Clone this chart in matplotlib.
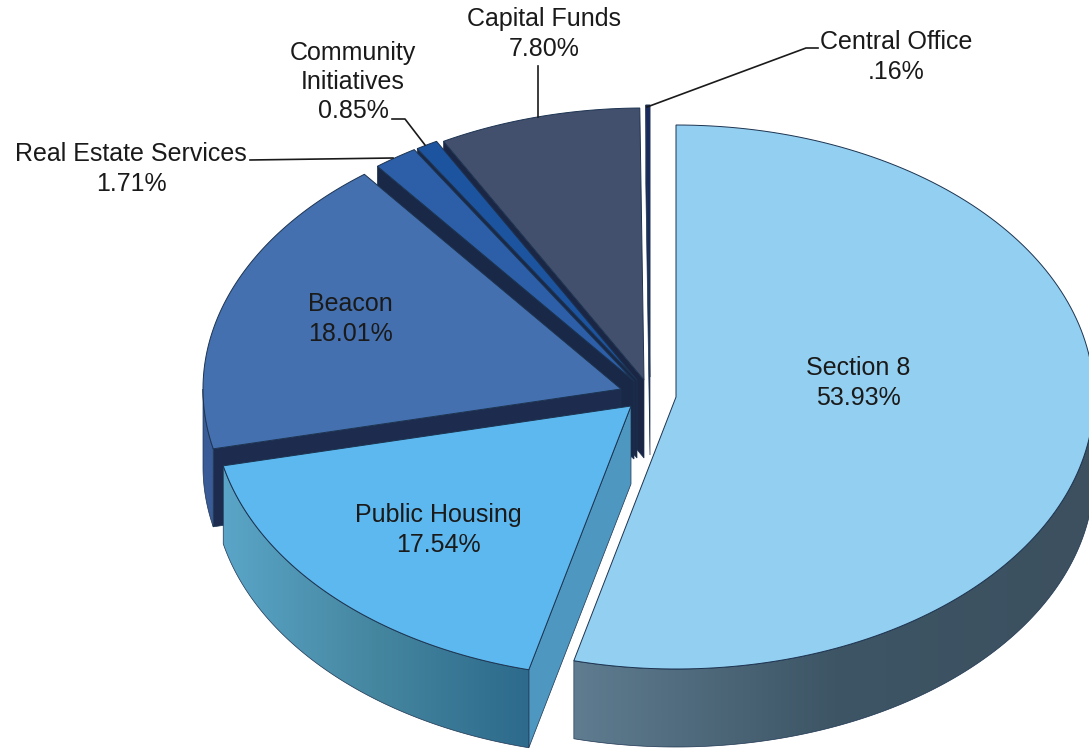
import numpy as np
import matplotlib
matplotlib.use("Agg")
import matplotlib.pyplot as plt
from matplotlib.colors import LinearSegmentedColormap
from matplotlib.patches import Polygon

# budget shares, clockwise from twelve o'clock
categories = ["Section 8", "Public Housing", "Beacon", "Real Estate Services",
              "Community Initiatives", "Capital Funds", "Central Office"]
shares = [53.93, 17.54, 18.01, 1.71, 0.85, 7.80, 0.16]
share_labels = ["Section 8\n53.93%", "Public Housing\n17.54%", "Beacon\n18.01%",
                "Real Estate Services\n1.71%", "Community\nInitiatives\n0.85%",
                "Capital Funds\n7.80%", "Central Office\n.16%"]

# layout of the tilted pie, in pixels
RX, RY, DEPTH = 418, 272, 78
apex = [(676, 397), (631, 406), (621, 389), (634, 381), (637, 380), (644, 380), (650, 377)]
label_pos = [(858, 383), (438, 530), (350, 319), (131, 169), (353, 82), (544, 34), (896, 57)]

top_colors = ["#93cff0", "#5cb8ee", "#4470b0", "#2c5fa8", "#1c54a0", "#42506e", "#1a2a60"]
rim_colors = [("#5f7c90", "#3d5565", "#3c505f"), ("#5aa5c8", "#45869f", "#2d6a8c"),
              ("#3a5c98", "#3a5c98", "#3a5c98"), ("#1d2c4e", "#1d2c4e", "#1d2c4e"),
              ("#1d2c4e", "#1d2c4e", "#1d2c4e"), ("#1d2c4e", "#1d2c4e", "#1d2c4e"),
              ("#1a2a60", "#1a2a60", "#1a2a60")]
face_colors = ["#3d5565", "#4d97c1", "#1d2c4e", "#1a2848", "#1a2848", "#1a2644", "#1a2a60"]
EDGE = "#1c3350"


def arc(cx, cy, a0, a1, n=160):
    t = np.radians(np.linspace(a0, a1, n))
    return np.column_stack([cx + RX * np.sin(t), cy - RY * np.cos(t)])


def gradient_fill(ax, pts, colors, zorder):
    # horizontal shading clipped to the wall outline
    cmap = LinearSegmentedColormap.from_list("wall", colors)
    x0, x1 = pts[:, 0].min(), pts[:, 0].max()
    y0, y1 = pts[:, 1].min(), pts[:, 1].max()
    im = ax.imshow(np.linspace(0, 1, 256).reshape(1, -1), cmap=cmap, aspect="auto",
                   extent=(x0, x1, y1, y0), zorder=zorder)
    outline = Polygon(pts, closed=True, fc="none", ec=EDGE, lw=0.5, zorder=zorder + 0.1)
    ax.add_patch(outline)
    im.set_clip_path(outline)


fig = plt.figure(figsize=(10.89, 7.5), dpi=100)
ax = fig.add_axes([0, 0, 1, 1])
ax.axis("off")

edges = np.concatenate([[0], np.cumsum(shares)]) / sum(shares) * 360

# back slices first so the front ones cover their walls
for i in reversed(range(len(shares))):
    cx, cy = apex[i]
    a0, a1 = edges[i], edges[i + 1]
    z = 10 * (len(shares) - i)
    outer = arc(cx, cy, a0, a1)

    # only the leading cut face looks toward the viewer on this side
    if a0 >= 180:
        end = outer[0]
        face = np.array([[cx, cy], end, end + [0, DEPTH], [cx, cy + DEPTH]])
        ax.add_patch(Polygon(face, closed=True, fc=face_colors[i], ec=EDGE, lw=0.5, zorder=z))

    # outer rim, front half of the ellipse only
    r0, r1 = max(a0, 90), min(a1, 270)
    if r0 < r1:
        rim = arc(cx, cy, r0, r1)
        wall = np.vstack([rim, (rim + [0, DEPTH])[::-1]])
        gradient_fill(ax, wall, rim_colors[i], z + 1)

    # top surface
    top = np.vstack([[cx, cy], outer])
    ax.add_patch(Polygon(top, closed=True, fc=top_colors[i], ec=EDGE, lw=0.7, zorder=z + 2))

# leader lines
leaders = [[(250, 160), (393, 158)],
           [(392, 119), (405, 119), (425, 145)],
           [(538, 66), (538, 117)],
           [(647, 107), (806, 48), (818, 48)]]
for line in leaders:
    xs, ys = zip(*line)
    ax.plot(xs, ys, color="#1a1a1a", lw=1.2, zorder=200)

for text, (x, y) in zip(share_labels, label_pos):
    ax.text(x, y, text, ha="center", va="center", fontsize=18, color="#1a1a1a",
            family="Liberation Sans", linespacing=1.27, zorder=210)

ax.set_xlim(0, 1089)
ax.set_ylim(750, 0)
fig.savefig("out.png", dpi=100)
